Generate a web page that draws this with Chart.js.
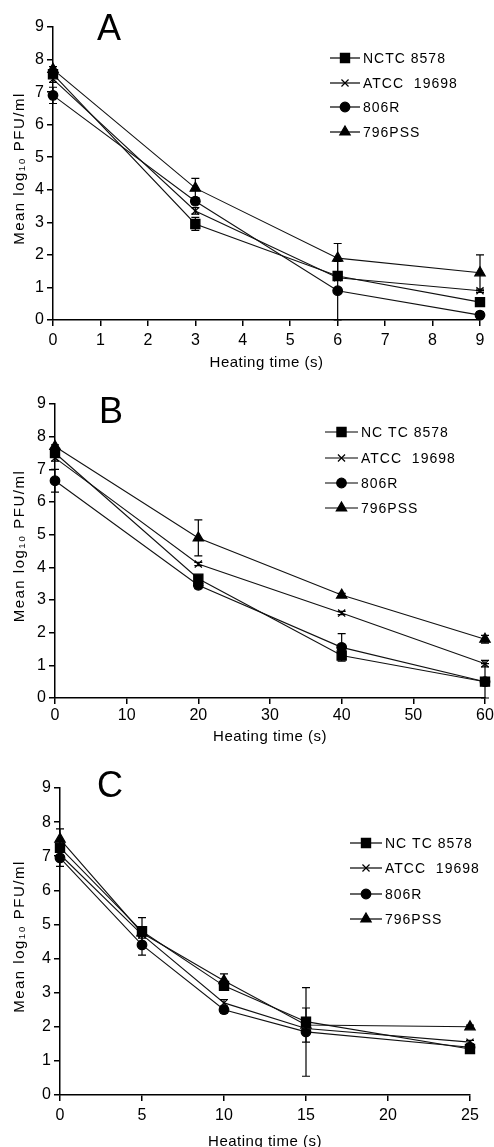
<!DOCTYPE html>
<html>
<head>
<meta charset="utf-8">
<script src="https://cdn.jsdelivr.net/npm/chart.js@4.4.0/dist/chart.umd.min.js"></script>
<style>
  body { margin: 0; background: #fff; }
  .panel { position: absolute; left: 0; width: 494px; }
</style>
</head>
<body>
<div class="panel" style="top:0;height:380px"><canvas id="chart-a"></canvas></div>
<div class="panel" style="top:380px;height:380px"><canvas id="chart-b"></canvas></div>
<div class="panel" style="top:760px;height:387px"><canvas id="chart-c"></canvas></div>
<script>
// strains, shared by all three panels
var strainLabels = ['NCTC 8578', 'ATCC  19698', '806R', '796PSS'];
var strainLabelsBC = ['NC TC 8578', 'ATCC  19698', '806R', '796PSS'];
var yTicks = [0, 1, 2, 3, 4, 5, 6, 7, 8, 9];

// panel A
var timeA = [0, 3, 6, 9];
var nctcA = [7.55, 2.95, 1.35, 0.55];
var atccA = [7.4, 3.35, 1.3, 0.9];
var r806A = [6.9, 3.65, 0.9, 0.15];
var pss796A = [7.7, 4.05, 1.9, 1.45];
var nctcErrA = [0.1, 0.2, 0.1, 0.08];
var atccErrA = [0.1, 0.1, 0.05, 0.05];
var r806ErrA = [0.25, 0.1, 0.9, 0.1];
var pss796ErrA = [0.08, 0.3, 0.45, 0.55];

// panel B
var timeB = [0, 20, 40, 60];
var nctcB = [7.5, 3.65, 1.3, 0.5];
var atccB = [7.35, 4.1, 2.6, 1.05];
var r806B = [6.65, 3.45, 1.55, 0.5];
var pss796B = [7.7, 4.9, 3.15, 1.8];
var nctcErrB = [0.1, 0.1, 0.1, 0.55];
var atccErrB = [0.1, 0.05, 0.05, 0.1];
var r806ErrB = [0.35, 0.1, 0.42, 0.1];
var pss796ErrB = [0.05, 0.55, 0.05, 0.12];

// panel C
var timeC = [0, 5, 10, 15, 25];
var nctcC = [7.25, 4.8, 3.2, 2.15, 1.35];
var atccC = [7.05, 4.7, 2.7, 1.95, 1.55];
var r806C = [6.95, 4.4, 2.5, 1.85, 1.4];
var pss796C = [7.5, 4.75, 3.35, 2.05, 2.0];
var nctcErrC = [0.1, 0.4, 0.1, 0.1, 0.05];
var atccErrC = [0.1, 0.1, 0.1, 0.1, 0.05];
var r806ErrC = [0.25, 0.3, 0.1, 1.3, 0.05];
var pss796ErrC = [0.3, 0.1, 0.2, 0.5, 0.05];

var pointStyles = ['rect', 'crossRot', 'circle', 'triangle'];
var pointSizes = [6.5, 5, 4.8, 6];
var fontFamily = "'Liberation Sans', Arial, sans-serif";

// vertical error bars with caps
var errorBarPlugin = {
    id: 'errorBars',
    afterDatasetsDraw: function (chart) {
        var ctx = chart.ctx;
        var xs = chart.scales.x, ys = chart.scales.y;
        ctx.save();
        ctx.strokeStyle = '#000';
        ctx.lineWidth = 1.2;
        chart.data.datasets.forEach(function (ds) {
            ds.errors.forEach(function (err, i) {
                var pt = ds.data[i];
                var px = xs.getPixelForValue(pt.x);
                var hi = ys.getPixelForValue(pt.y + err);
                var lo = ys.getPixelForValue(Math.max(0, pt.y - err));
                ctx.beginPath();
                ctx.moveTo(px, hi); ctx.lineTo(px, lo);
                ctx.moveTo(px - 4, hi); ctx.lineTo(px + 4, hi);
                ctx.moveTo(px - 4, lo); ctx.lineTo(px + 4, lo);
                ctx.stroke();
            });
        });
        ctx.restore();
    }
};

// panel letter, axis titles and the legend box
var panelTextPlugin = {
    id: 'panelText',
    afterDraw: function (chart, args, opts) {
        var ctx = chart.ctx;
        var area = chart.chartArea;
        ctx.save();
        ctx.fillStyle = '#000';
        ctx.strokeStyle = '#000';

        ctx.font = '36px ' + fontFamily;
        ctx.textAlign = 'left';
        ctx.textBaseline = 'alphabetic';
        ctx.fillText(opts.letter, opts.letterX, opts.letterY);

        ctx.font = '15px ' + fontFamily;
        ctx.letterSpacing = '0.5px';
        ctx.textAlign = 'center';
        ctx.textBaseline = 'middle';
        ctx.fillText('Heating time (s)', (area.left + area.right) / 2, opts.xTitleY);

        ctx.save();
        ctx.translate(20, (area.top + area.bottom) / 2 - 5);
        ctx.rotate(-Math.PI / 2);
        ctx.letterSpacing = '1.5px';
        ctx.fillText('Mean log\u2081\u2080 PFU/ml', 0, 0);
        ctx.restore();

        ctx.font = '14px ' + fontFamily;
        ctx.letterSpacing = '1px';
        ctx.textAlign = 'left';
        chart.data.datasets.forEach(function (ds, k) {
            var y = opts.legendRows[k];
            ctx.lineWidth = 1.2;
            ctx.beginPath();
            ctx.moveTo(opts.legendX0, y);
            ctx.lineTo(opts.legendX1, y);
            ctx.stroke();
            Chart.helpers.drawPoint(ctx, {
                pointStyle: ds.pointStyle, radius: ds.pointRadius, rotation: 0, borderWidth: 1.2
            }, (opts.legendX0 + opts.legendX1) / 2, y);
            ctx.fillText(ds.label, opts.legendX1 + 3, y + 1);
        });
        ctx.restore();
    }
};

function makePanel(canvasId, p) {
    var datasets = p.series.map(function (vals, k) {
        return {
            label: p.labels[k],
            data: p.time.map(function (t, i) { return { x: t, y: vals[i] }; }),
            errors: p.errors[k],
            borderColor: '#111',
            borderWidth: 1.1,
            backgroundColor: '#000',
            pointStyle: pointStyles[k],
            pointRadius: pointSizes[k],
            pointBorderColor: '#000',
            pointBackgroundColor: '#000',
            pointBorderWidth: 1.2,
            tension: 0,
            clip: false
        };
    });
    var tickFont = { family: fontFamily, size: 16 };
    new Chart(document.getElementById(canvasId), {
        type: 'line',
        data: { datasets: datasets },
        options: {
            responsive: true,
            maintainAspectRatio: false,
            animation: false,
            layout: { padding: { left: 0, top: p.plotTop, right: 494 - p.plotRight, bottom: 0 } },
            scales: {
                x: {
                    type: 'linear',
                    min: 0,
                    max: p.xMax,
                    ticks: { stepSize: p.xStep, color: '#000', font: tickFont, padding: p.xTickPad, maxRotation: 0 },
                    grid: { drawOnChartArea: false, drawTicks: true, tickLength: 6, color: '#000', lineWidth: 1.5 },
                    border: { color: '#000', width: 1.5 },
                    afterFit: function (s) {
                        s.height = p.height - p.plotBottom;
                        s.paddingLeft = 0;
                        s.paddingRight = 0;
                    }
                },
                y: {
                    min: 0,
                    max: 9,
                    afterBuildTicks: function (s) {
                        s.ticks = yTicks.map(function (v) { return { value: v }; });
                    },
                    ticks: { color: '#000', font: tickFont, padding: 3 },
                    grid: { drawOnChartArea: false, drawTicks: true, tickLength: 6, color: '#000', lineWidth: 1.5 },
                    border: { color: '#000', width: 1.5 },
                    afterFit: function (s) {
                        s.width = p.plotLeft;
                        s.paddingTop = 0;
                        s.paddingBottom = 0;
                    }
                }
            },
            plugins: {
                legend: { display: false },
                tooltip: { enabled: false },
                panelText: {
                    letter: p.letter, letterX: p.letterX, letterY: p.letterY,
                    xTitleY: p.xTitleY,
                    legendX0: p.legendX0, legendX1: p.legendX1, legendRows: p.legendRows
                }
            }
        },
        plugins: [errorBarPlugin, panelTextPlugin]
    });
}

makePanel('chart-a', {
    letter: 'A', letterX: 97, letterY: 40,
    time: timeA, xMax: 9, xStep: 1, xTickPad: 5,
    series: [nctcA, atccA, r806A, pss796A],
    errors: [nctcErrA, atccErrA, r806ErrA, pss796ErrA],
    labels: strainLabels,
    height: 380, plotLeft: 53, plotTop: 27, plotRight: 480, plotBottom: 320,
    xTitleY: 363,
    legendX0: 330, legendX1: 360, legendRows: [58, 83, 107, 132]
});

makePanel('chart-b', {
    letter: 'B', letterX: 99, letterY: 43,
    time: timeB, xMax: 60, xStep: 10, xTickPad: 2,
    series: [nctcB, atccB, r806B, pss796B],
    errors: [nctcErrB, atccErrB, r806ErrB, pss796ErrB],
    labels: strainLabelsBC,
    height: 380, plotLeft: 55, plotTop: 24, plotRight: 485, plotBottom: 318,
    xTitleY: 357,
    legendX0: 325, legendX1: 358, legendRows: [52, 78, 103, 128]
});

makePanel('chart-c', {
    letter: 'C', letterX: 97, letterY: 37,
    time: timeC, xMax: 25, xStep: 5, xTickPad: 5,
    series: [nctcC, atccC, r806C, pss796C],
    errors: [nctcErrC, atccErrC, r806ErrC, pss796ErrC],
    labels: strainLabelsBC,
    height: 387, plotLeft: 60, plotTop: 28, plotRight: 470, plotBottom: 335,
    xTitleY: 382,
    legendX0: 350, legendX1: 382, legendRows: [83, 108, 134, 159]
});
</script>
</body>
</html>
